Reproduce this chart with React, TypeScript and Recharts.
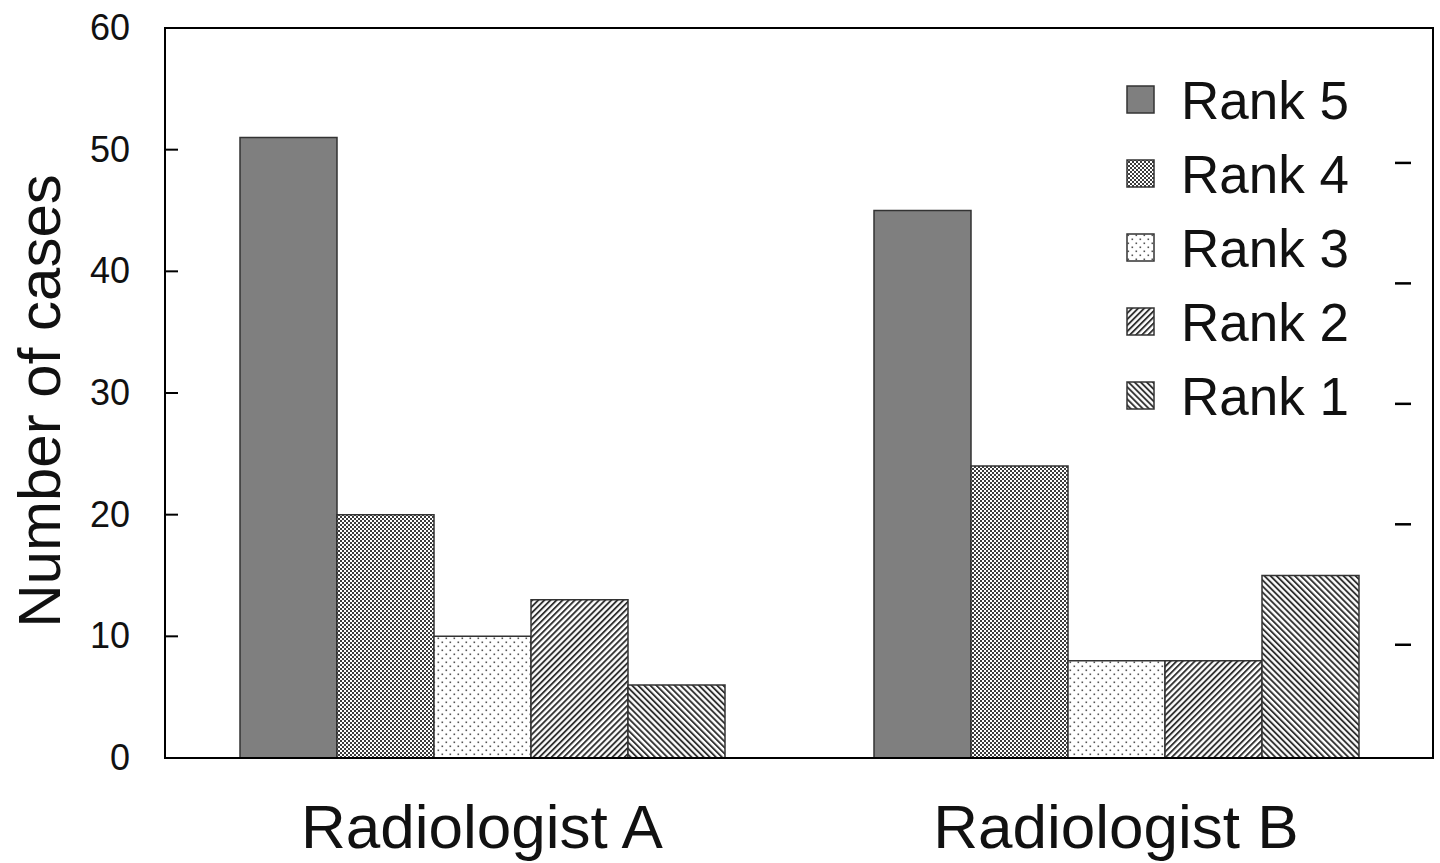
import React from 'react';
import { BarChart, Bar, XAxis, YAxis, Legend, ReferenceArea, ReferenceLine } from 'recharts';

const categories = ['Radiologist A', 'Radiologist B'];
const rank5 = [51, 45];
const rank4 = [20, 24];
const rank3 = [10, 8];
const rank2 = [13, 8];
const rank1 = [6, 15];
const yTicks = [0, 10, 20, 30, 40, 50, 60];
const rightTicks = [10, 20, 30, 40, 50];
// the right-hand dashes sit on a slightly different scale than the left axis
const rightDomain = [0.6, 61.2];

const FONT = '"Liberation Sans", Arial, sans-serif';

const series = [
  { key: 'rank5', name: 'Rank 5', values: rank5, fill: '#7f7f7f' },
  { key: 'rank4', name: 'Rank 4', values: rank4, fill: 'url(#pat-check)' },
  { key: 'rank3', name: 'Rank 3', values: rank3, fill: 'url(#pat-dots)' },
  { key: 'rank2', name: 'Rank 2', values: rank2, fill: 'url(#pat-fwd)' },
  { key: 'rank1', name: 'Rank 1', values: rank1, fill: 'url(#pat-back)' },
];

const data = categories.map((name, i) => {
  const row: Record<string, string | number> = { name };
  series.forEach((s) => (row[s.key] = s.values[i]));
  return row;
});

const Patterns = () => (
  <svg width={0} height={0} style={{ position: 'absolute' }}>
    <defs>
      <pattern id="pat-check" width="4" height="4" patternUnits="userSpaceOnUse">
        <rect width="4" height="4" fill="#fff" />
        <rect x="0" y="0" width="2" height="2" fill="#3c3c3c" />
        <rect x="2" y="2" width="2" height="2" fill="#3c3c3c" />
      </pattern>
      <pattern id="pat-dots" width="8" height="8" patternUnits="userSpaceOnUse">
        <rect width="8" height="8" fill="#fff" />
        <rect x="1.5" y="1.5" width="1.6" height="1.6" fill="#555" />
        <rect x="5.5" y="5.5" width="1.6" height="1.6" fill="#555" />
      </pattern>
      <pattern id="pat-fwd" width="4.3" height="10" patternUnits="userSpaceOnUse" patternTransform="rotate(45)">
        <rect width="4.3" height="10" fill="#fff" />
        <rect width="1.9" height="10" fill="#333" />
      </pattern>
      <pattern id="pat-back" width="4.3" height="10" patternUnits="userSpaceOnUse" patternTransform="rotate(-45)">
        <rect width="4.3" height="10" fill="#fff" />
        <rect width="1.9" height="10" fill="#333" />
      </pattern>
    </defs>
  </svg>
);

const LegendBox = () => (
  <div style={{ display: 'flex', flexDirection: 'column', fontFamily: FONT }}>
    {series.map((s) => (
      <div key={s.key} style={{ display: 'flex', alignItems: 'center', height: 74 }}>
        <svg width={30} height={30}>
          <rect x={1} y={1} width={27} height={27} fill={s.fill} stroke="#333" strokeWidth={1.5} />
        </svg>
        <span style={{ marginLeft: 25, fontSize: 53, color: '#111', lineHeight: 1 }}>{s.name}</span>
      </div>
    ))}
  </div>
);

const LeftTick = (props: any) => {
  const { x, y, payload } = props;
  return (
    <g>
      <line x1={x + 35} x2={x + 48} y1={y} y2={y} stroke="#000" strokeWidth={2} />
      <text x={x} y={y} dy={12} textAnchor="end" fontSize={36} fontFamily={FONT} fill="#111">
        {payload.value}
      </text>
    </g>
  );
};

// short dash drawn a little inside the right frame edge
const RightDash = (props: any) => {
  const x2 = Math.max(props.x1, props.x2);
  const y = props.y1;
  return <line x1={x2 - 38} x2={x2 - 22} y1={y} y2={y} stroke="#000" strokeWidth={2.5} />;
};

export default function App() {
  return (
    <div style={{ position: 'absolute', left: 0, top: 0, width: 1440, height: 863, background: '#fff', fontFamily: FONT }}>
      <Patterns />
      <BarChart
        width={1440}
        height={863}
        data={data}
        margin={{ top: 28, right: 7, left: 0, bottom: 0 }}
        barCategoryGap={75}
        barGap={0}
      >
        <XAxis
          xAxisId="main"
          dataKey="name"
          height={105}
          tickLine={false}
          tickSize={0}
          tickMargin={46}
          axisLine={{ stroke: '#000', strokeWidth: 2 }}
          tick={{ fontSize: 62, fill: '#111', fontFamily: FONT }}
        />
        <YAxis
          yAxisId="left"
          width={165}
          domain={[0, 60]}
          ticks={yTicks}
          interval={0}
          tickLine={false}
          tickSize={0}
          tickMargin={35}
          axisLine={{ stroke: '#000', strokeWidth: 2 }}
          tick={<LeftTick />}
          label={{ value: 'Number of cases', angle: -90, position: 'center', dx: -44, dy: 8, fontSize: 60, fill: '#111', fontFamily: FONT }}
        />
        <YAxis yAxisId="right" orientation="right" hide domain={rightDomain} allowDataOverflow type="number" />
        <ReferenceArea
          xAxisId="main"
          yAxisId="left"
          y1={0}
          y2={60}
          fill="none"
          stroke="#000"
          strokeWidth={2}
          ifOverflow="visible"
        />
        {rightTicks.map((v) => (
          <ReferenceLine key={v} xAxisId="main" yAxisId="right" y={v} shape={<RightDash />} />
        ))}
        <Legend
          layout="vertical"
          align="center"
          verticalAlign="middle"
          content={<LegendBox />}
          wrapperStyle={{ left: 1126, top: 63, width: 'auto', height: 'auto' }}
        />
        {series.map((s) => (
          <Bar
            key={s.key}
            xAxisId="main"
            yAxisId="left"
            dataKey={s.key}
            name={s.name}
            fill={s.fill}
            stroke="#333"
            strokeWidth={1.5}
            isAnimationActive={false}
          />
        ))}
      </BarChart>
    </div>
  );
}
